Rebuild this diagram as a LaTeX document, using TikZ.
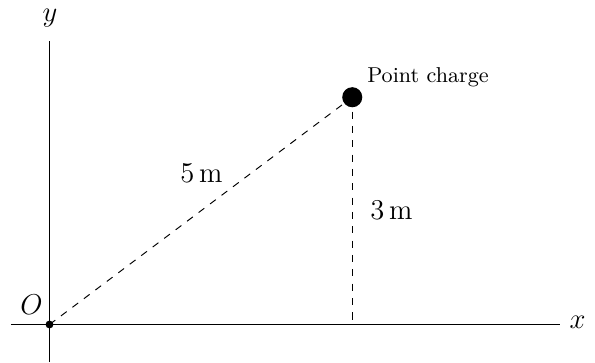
\documentclass[tikz,border=0pt]{standalone}
\begin{document}
\begin{tikzpicture}[x=31.59pt,y=31.59pt,
  axis/.style={line width=0.45pt},
  guide/.style={dashed,line width=0.4pt},
  lbl/.style={font=\large,inner sep=0pt},
  dotnode/.style={circle,fill=black,inner sep=0pt}]
\useasboundingbox (-0.6556,-0.5099) rectangle (7.2252,4.298);
% axes
\coordinate (xl) at (-0.51,0);
\coordinate (xr) at (6.76,0);
\coordinate (yb) at (0,-0.50);
\coordinate (yt) at (0,3.755);
\draw[axis] (xl) -- (xr);
\draw[axis] (yb) -- (yt);
% points
\node[dotnode,minimum size=3.3pt] (o) at (0,0) {};
\node[dotnode,minimum size=8.4pt] (q) at (4.01,3.01) {};
\coordinate (foot) at (4.01,0);
% dashed guides
\draw[guide] (o.center) -- (q.center);
\draw[guide] (q.center) -- (foot);
% labels
\node[lbl] (ylab) at (0.0066,4.0596) {$y$};
\node[lbl] (xlab) at (6.993,0.0331) {$x$};
\node[lbl] (olab) at (-0.2384,0.2556) {$O$};
\node[lbl] (hyp) at (2.0132,2.0093) {$5\,\mathrm{m}$};
\node[lbl] (ht) at (4.5298,1.5073) {$3\,\mathrm{m}$};
\node[font=\small,inner sep=0pt] (qlab) at (5.0132,3.2702) {Point charge};
\end{tikzpicture}
\end{document}
